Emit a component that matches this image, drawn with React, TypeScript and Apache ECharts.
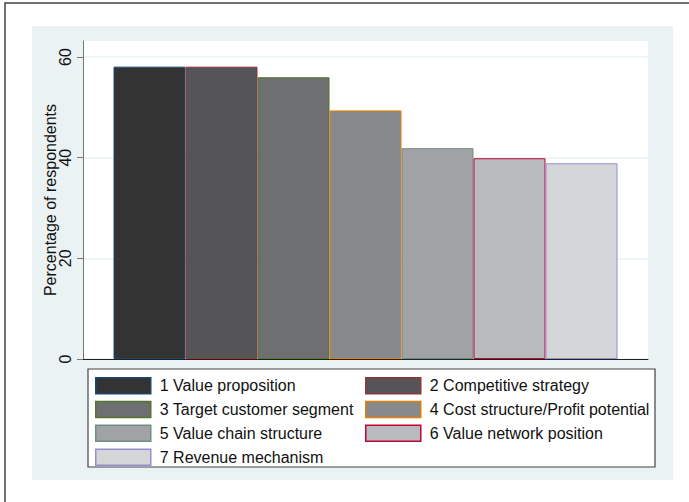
import React, { useEffect, useRef } from 'react';
import * as echarts from 'echarts';

const categories = [
  '1 Value proposition',
  '2 Competitive strategy',
  '3 Target customer segment',
  '4 Cost structure/Profit potential',
  '5 Value chain structure',
  '6 Value network position',
  '7 Revenue mechanism',
];
const values = [58.1, 58.1, 56.0, 49.4, 41.9, 39.9, 38.9];
const fillColors = ['#333333', '#555557', '#6e6f71', '#88898c', '#a1a2a5', '#b9babd', '#d4d5d7'];
const borderColors = ['#1a476f', '#90353b', '#55752f', '#e37e00', '#6e8e84', '#c10534', '#938dd2'];
const yTicks = [0, 20, 40, 60];
const yMax = 63.2;
const yTitle = 'Percentage of respondents';

const FONT = '"Liberation Sans", Arial, Helvetica, sans-serif';

export default function App() {
  const ref = useRef<HTMLDivElement>(null);
  useEffect(() => {
    if (!ref.current) return;
    const chart = echarts.init(ref.current, null, { renderer: 'svg' });
    const series = categories.map((name, i) => ({
      type: 'bar',
      name,
      data: [values[i]],
      barWidth: 72,
      barGap: '0%',
      itemStyle: { color: fillColors[i], borderColor: borderColors[i], borderWidth: 1 },
    }));
    const legendCommon = {
      orient: 'vertical',
      padding: 0,
      itemWidth: 55,
      itemHeight: 16,
      itemGap: 6.3,
      icon: 'rect',
      selectedMode: false,
      z: 5,
      itemStyle: { borderWidth: 1.5 },
      textStyle: { fontSize: 16, fontFamily: FONT, color: '#111', lineHeight: 16, padding: [0, 0, 0, 4] },
    };
    chart.setOption({
      animation: false,
      textStyle: { fontFamily: FONT },
      grid: {
        left: 83,
        right: 41,
        top: 41,
        bottom: 143,
        show: true,
        backgroundColor: '#ffffff',
        borderWidth: 0,
      },
      xAxis: {
        type: 'category',
        data: [''],
        axisLine: { lineStyle: { color: '#222', width: 1 } },
        axisTick: { show: false },
        axisLabel: { show: false },
      },
      yAxis: {
        type: 'value',
        min: 0,
        max: yMax,
        interval: 20,
        name: yTitle,
        nameLocation: 'middle',
        nameRotate: 90,
        nameGap: 25,
        nameMoveOverlap: false,
        nameTextStyle: { fontSize: 16, fontFamily: FONT, color: '#111' },
        axisLine: { show: true, lineStyle: { color: '#777', width: 1 } },
        axisTick: { show: true, length: 6, customValues: yTicks, lineStyle: { color: '#777' } },
        axisLabel: {
          customValues: yTicks,
          rotate: 90,
          margin: 10,
          fontSize: 16,
          fontFamily: FONT,
          color: '#111',
          formatter: (v: number) => (v % 20 === 0 ? String(v) : ''),
        },
        splitLine: {
          show: true,
          lineStyle: { color: ['#eaf2f3', '#eaf2f3', '#eaf2f3', '#eaf2f3', 'rgba(0,0,0,0)'], width: 1.5 },
        },
      },
      legend: [
        { ...legendCommon, left: 95, top: 377, data: [categories[0], categories[2], categories[4], categories[6]] },
        { ...legendCommon, left: 365, top: 377, data: [categories[1], categories[3], categories[5]] },
      ],
      graphic: [
        {
          type: 'rect',
          z: -10,
          silent: true,
          shape: { x: 32, y: 26, width: 641, height: 454 },
          style: { fill: '#eaf2f3' },
        },
        {
          type: 'rect',
          z: 1,
          silent: true,
          shape: { x: 88, y: 369, width: 567, height: 98 },
          style: { fill: '#ffffff', stroke: '#444', lineWidth: 1.2 },
        },
        {
          type: 'rect',
          z: 10,
          silent: true,
          shape: { x: 5, y: 3, width: 720, height: 540 },
          style: { fill: 'none', stroke: '#444', lineWidth: 1.5 },
        },
      ],
      series,
    });
    return () => chart.dispose();
  }, []);
  return (
    <div
      ref={ref}
      style={{ position: 'fixed', left: 0, top: 0, width: 689, height: 502, background: '#fff' }}
    />
  );
}
